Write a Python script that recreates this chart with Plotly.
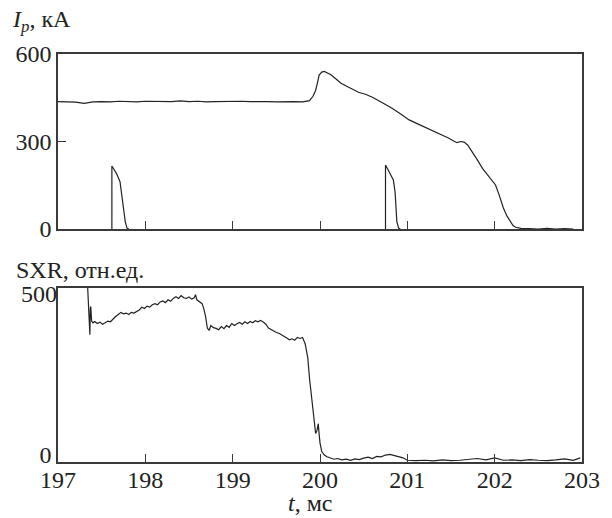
import plotly.graph_objects as go

# ---------------- data ----------------
ip_t = [197.00, 197.10, 197.20, 197.30, 197.35, 197.40, 197.50, 197.60, 197.70, 197.80,
        197.90, 198.00, 198.10, 198.20, 198.30, 198.40, 198.50, 198.60, 198.70, 198.80,
        198.90, 199.00, 199.10, 199.20, 199.30, 199.40, 199.50, 199.60, 199.70, 199.80,
        199.88, 199.92, 199.95, 199.97, 199.99, 200.02, 200.05, 200.08, 200.12, 200.18,
        200.24, 200.30, 200.37, 200.44, 200.52, 200.60, 200.72, 200.82, 200.92, 201.02,
        201.10, 201.18, 201.26, 201.33, 201.40, 201.47, 201.53, 201.57, 201.61, 201.65,
        201.69, 201.73, 201.80, 201.86, 201.92, 201.97, 202.01, 202.05, 202.10, 202.14,
        202.18, 202.21, 202.24, 202.30, 202.40, 202.50, 202.60, 202.70, 202.80, 202.90]
ip_v = [437, 436, 435, 431, 433, 436, 437, 436, 438, 437,
        436, 438, 437, 438, 437, 439, 437, 438, 436, 437,
        438, 437, 438, 437, 438, 437, 436, 437, 437, 436,
        440, 455, 475, 500, 528, 538, 540, 536, 530, 515,
        500, 490, 480, 469, 462, 452, 432, 415, 395, 374,
        363, 352, 342, 332, 322, 312, 302, 296, 300, 298,
        288, 271, 238, 208, 185, 165, 151, 118, 72, 45,
        25, 12, 6, 2, 1, 0, 2, 0, 1, 0]

pulse_t = [197.617, 197.617, 197.64, 197.67, 197.71, 197.73, 197.75, 197.77, 197.79, 197.81, None,
           200.750, 200.750, 200.77, 200.80, 200.84, 200.86, 200.87, 200.88, 200.90, 200.92]
pulse_v = [0, 216, 205, 190, 162, 120, 65, 25, 3, 0, None,
           0, 219, 208, 192, 168, 125, 65, 25, 3, 0]

sxr_t = [197.34, 197.355, 197.365, 197.37, 197.375, 197.385, 197.40, 197.42, 197.45, 197.48,
         197.51, 197.54, 197.57, 197.60, 197.63, 197.66, 197.69, 197.72, 197.75, 197.78,
         197.81, 197.84, 197.87, 197.90, 197.93, 197.96, 197.99, 198.02, 198.05, 198.08,
         198.11, 198.14, 198.17, 198.20, 198.23, 198.26, 198.29, 198.32, 198.35, 198.38,
         198.41, 198.44, 198.47, 198.50, 198.53, 198.56, 198.575, 198.59, 198.62, 198.65,
         198.67, 198.69, 198.71, 198.73, 198.75, 198.78, 198.81, 198.84, 198.87, 198.90,
         198.93, 198.96, 198.99, 199.02, 199.05, 199.08, 199.11, 199.14, 199.17, 199.20,
         199.23, 199.26, 199.29, 199.32, 199.35, 199.38, 199.41, 199.44, 199.47, 199.50,
         199.53, 199.56, 199.59, 199.62, 199.65, 199.68, 199.71, 199.74, 199.77, 199.80,
         199.83, 199.86, 199.88, 199.90, 199.92, 199.94, 199.95, 199.965, 199.98, 199.99,
         200.00, 200.02, 200.05, 200.08, 200.12, 200.16, 200.20, 200.25, 200.30, 200.35,
         200.40, 200.45, 200.50, 200.55, 200.60, 200.65, 200.70, 200.75, 200.80, 200.85,
         200.90, 200.95, 201.00, 201.05, 201.10, 201.20, 201.30, 201.40, 201.50, 201.60,
         201.70, 201.80, 201.90, 202.00, 202.10, 202.20, 202.30, 202.40, 202.50, 202.60,
         202.70, 202.80, 202.90, 202.98]
sxr_v = [500, 420, 366, 440, 447, 405, 400, 404, 398, 402,
         396, 400, 405, 403, 412, 418, 424, 430, 426, 428,
         424, 430, 428, 433, 437, 445, 441, 448, 445, 452,
         455, 452, 460, 463, 458, 466, 462, 470, 475, 470,
         478, 472, 470, 474, 468, 472, 481, 466, 460, 455,
         440, 418, 385, 378, 392, 386, 384, 380, 389, 383,
         392, 387, 398, 392, 397, 401, 396, 403, 398, 404,
         400, 406, 403, 407, 402, 396, 385, 380, 376, 372,
         370, 366, 362, 356, 351, 354, 350, 358, 355, 358,
         340, 300, 240, 190, 140, 100, 82, 90, 110, 80,
         55, 30, 20, 15, 12, 8, 10, 6, 8, 5,
         9, 7, 11, 14, 10, 16, 15, 20, 22, 18,
         16, 12, 5, 4, 4, 5, 3, 6, 4, 5,
         7, 10, 6, 12, 5, 6, 4, 7, 5, 4,
         6, 9, 5, 12]

x_ticks = [197, 198, 199, 200, 201, 202, 203]
ip_ticks = [0, 300, 600]
sxr_low_tick = [0]
sxr_high_tick = [500]

# ---------------- figure ----------------
FONT = "'Liberation Serif', 'Times New Roman', Times, serif"
INK = "#222222"
FRAME = "#3a3a3a"

fig = go.Figure()
fig.add_trace(go.Scatter(x=ip_t, y=ip_v, mode="lines", xaxis="x2", yaxis="y2",
                         line=dict(color=INK, width=1.2), showlegend=False))
fig.add_trace(go.Scatter(x=pulse_t, y=pulse_v, mode="lines", xaxis="x2", yaxis="y2",
                         line=dict(color=INK, width=1.2), showlegend=False, connectgaps=False))
fig.add_trace(go.Scatter(x=sxr_t, y=sxr_v, mode="lines", xaxis="x", yaxis="y",
                         line=dict(color=INK, width=1.2), showlegend=False))

axis_common = dict(showgrid=False, zeroline=False, showline=True, mirror=True,
                   linecolor=FRAME, linewidth=1.5, tickcolor=FRAME, tickwidth=1.2,
                   tickfont=dict(family=FONT, size=24, color=INK))

top_dom = [(462 - 229) / 408, 1.0]
bot_dom = [0.0, (462 - 288) / 408]

fig.update_layout(
    width=612, height=518,
    margin=dict(l=58, r=19, t=54, b=56),
    paper_bgcolor="white", plot_bgcolor="white",
    font=dict(family=FONT, size=24, color=INK),
    xaxis=dict(anchor="y", domain=[0, 1], range=[197, 203], tickmode="array",
               tickvals=x_ticks, ticks="inside", ticklen=8, ticklabelstandoff=-5,
               **axis_common),
    xaxis2=dict(anchor="y2", domain=[0, 1], range=[197, 203], matches="x", tickmode="array",
                tickvals=x_ticks[1:-1], ticks="inside", ticklen=8, showticklabels=False,
                **axis_common),
    yaxis=dict(anchor="x", domain=bot_dom, range=[0, 500], tickmode="array",
               tickvals=sxr_low_tick, ticks="", ticklabelshift=-7,
               **axis_common),
    yaxis3=dict(anchor="x", overlaying="y", domain=bot_dom, range=[0, 500], tickmode="array",
                tickvals=sxr_high_tick, ticks="", ticklabelshift=6,
                side="left", showgrid=False, zeroline=False, showline=False,
                tickfont=dict(family=FONT, size=24, color=INK)),
    yaxis2=dict(anchor="x2", domain=top_dom, range=[0, 600], tickmode="array",
                tickvals=ip_ticks, ticks="inside", ticklen=8, **axis_common),
    annotations=[
        dict(text="<i>I<sub>p</sub></i>, кА", xref="paper", yref="paper",
             x=(9 - 58) / 535, y=(462 - 21) / 408, xanchor="left", yanchor="middle",
             showarrow=False, font=dict(family=FONT, size=24, color=INK)),
        dict(text="SXR, отн.ед.", xref="paper", yref="paper",
             x=(13 - 58) / 535, y=(462 - 270) / 408, xanchor="left", yanchor="middle",
             showarrow=False, font=dict(family=FONT, size=24, color=INK)),
        dict(text="<i>t</i>, мс", xref="paper", yref="paper",
             x=(316 - 58) / 535, y=(462 - 503) / 408, xanchor="center", yanchor="middle",
             showarrow=False, font=dict(family=FONT, size=24, color=INK)),
    ],
)

# empty trace so the extra y axis (for the 500 label) is rendered
fig.add_trace(go.Scatter(x=[None], y=[None], xaxis="x", yaxis="y3", showlegend=False,
                         hoverinfo="skip"))

fig.write_html("out.html")
